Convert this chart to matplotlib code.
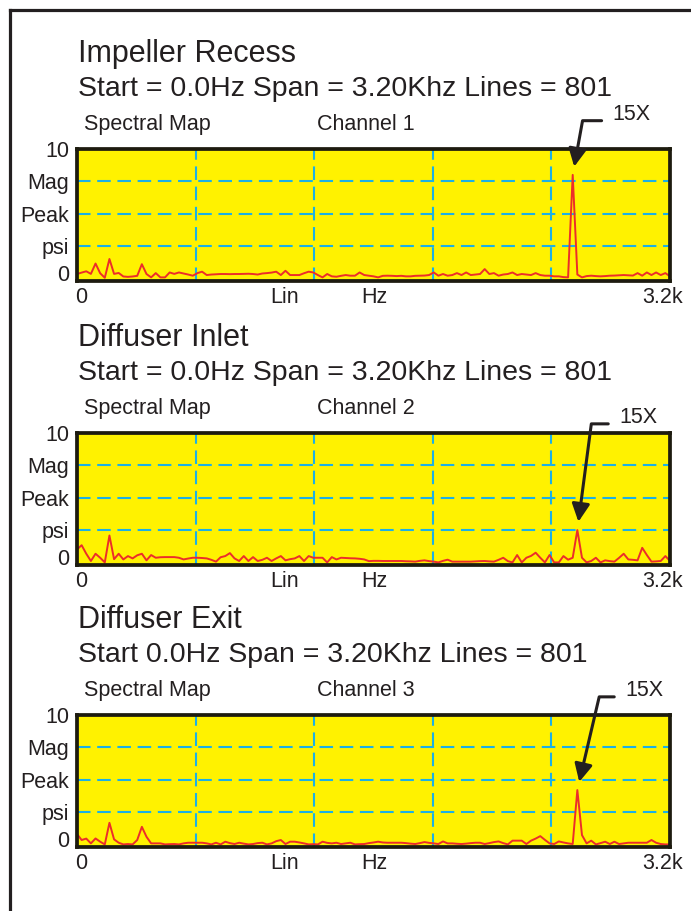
#!/usr/bin/env python3
"""
Spectral maps of pump pressure pulsation at three measuring points.

Each panel shows a 0 - 3.2 kHz magnitude spectrum (peak psi) on the
analyzer's yellow screen, with the 15X blade-pass component called out.
"""

import math

import numpy as np
import matplotlib
matplotlib.use('Agg')
import matplotlib.pyplot as plt
from matplotlib.lines import Line2D
from matplotlib.transforms import offset_copy, ScaledTranslation


# Spectrum bins: 0 - 3.2 kHz, 25 Hz per bin
FREQ_STEP_HZ = 25
SPAN_HZ = 3200

TITLES = ['Impeller Recess', 'Diffuser Inlet', 'Diffuser Exit']
SUBTITLES = [
    'Start = 0.0Hz Span = 3.20Khz Lines = 801',
    'Start = 0.0Hz Span = 3.20Khz Lines = 801',
    'Start 0.0Hz Span = 3.20Khz Lines = 801',
]
CHANNELS = ['Channel 1', 'Channel 2', 'Channel 3']
MAP_LABEL = 'Spectral Map'
PEAK_LABEL = '15X'

Y_TICKS = [0, 2.5, 5, 7.5, 10]
Y_TICK_LABELS = ['0', 'psi', 'Peak', 'Mag', '10']
X_LABELS = ['0', 'Lin', 'Hz', '3.2k']

# Magnitude (psi peak) per 25 Hz bin
CH1 = [
    0.34, 0.45, 0.55, 0.35, 1.15, 0.40, 0.05, 1.50, 0.35, 0.42,
    0.15, 0.12, 0.15, 0.20, 1.10, 0.34, 0.08, 0.41, 0.08, 0.08,
    0.46, 0.35, 0.46, 0.38, 0.30, 0.21, 0.41, 0.52, 0.26, 0.30,
    0.32, 0.34, 0.34, 0.33, 0.34, 0.34, 0.35, 0.36, 0.34, 0.30,
    0.38, 0.41, 0.45, 0.52, 0.26, 0.59, 0.26, 0.26, 0.26, 0.40,
    0.52, 0.46, 0.26, 0.08, 0.34, 0.16, 0.13, 0.20, 0.26, 0.21,
    0.21, 0.46, 0.26, 0.21, 0.16, 0.08, 0.20, 0.21, 0.20, 0.18,
    0.20, 0.16, 0.16, 0.20, 0.21, 0.22, 0.26, 0.46, 0.21, 0.34,
    0.21, 0.26, 0.41, 0.26, 0.46, 0.26, 0.30, 0.34, 0.72, 0.34,
    0.41, 0.21, 0.30, 0.34, 0.46, 0.26, 0.34, 0.30, 0.26, 0.41,
    0.26, 0.21, 0.21, 0.16, 0.16, 0.10, 0.08, 8.00, 0.30, 0.08,
    0.18, 0.21, 0.18, 0.16, 0.18, 0.21, 0.22, 0.24, 0.26, 0.24,
    0.22, 0.41, 0.21, 0.46, 0.26, 0.46, 0.26, 0.41, 0.16,
]
CH2 = [
    1.00, 1.33, 0.67, 0.11, 0.67, 0.36, 0.00, 2.08, 0.25, 0.67,
    0.23, 0.49, 0.31, 0.55, 0.67, 0.16, 0.57, 0.36, 0.40, 0.41,
    0.41, 0.41, 0.36, 0.23, 0.30, 0.36, 0.36, 0.34, 0.31, 0.20,
    0.06, 0.40, 0.49, 0.72, 0.31, 0.11, 0.49, 0.11, 0.41, 0.11,
    0.20, 0.36, 0.11, 0.31, 0.49, 0.16, 0.25, 0.31, 0.49, 0.11,
    0.49, 0.36, 0.36, 0.36, 0.00, 0.41, 0.23, 0.36, 0.34, 0.32,
    0.31, 0.28, 0.23, 0.10, 0.12, 0.12, 0.11, 0.11, 0.11, 0.11,
    0.11, 0.09, 0.08, 0.06, 0.12, 0.16, 0.10, 0.06, 0.00, 0.12,
    0.21, 0.06, 0.06, 0.06, 0.06, 0.06, 0.08, 0.10, 0.11, 0.08,
    0.06, 0.20, 0.36, 0.10, 0.00, 0.57, 0.00, 0.36, 0.50, 0.75,
    0.36, 0.00, 0.57, 0.00, 0.00, 0.49, 0.21, 0.36, 2.50, 0.36,
    0.00, 0.11, 0.36, 0.00, 0.16, 0.10, 0.06, 0.35, 0.67, 0.23,
    0.20, 0.16, 1.13, 0.57, 0.06, 0.08, 0.11, 0.49, 0.11,
]
CH3 = [
    0.80, 0.34, 0.45, 0.08, 0.46, 0.21, 0.00, 1.67, 0.39, 0.13,
    0.00, 0.03, 0.00, 0.34, 1.36, 0.59, 0.08, 0.08, 0.08, 0.00,
    0.02, 0.03, 0.00, 0.08, 0.13, 0.13, 0.13, 0.13, 0.08, 0.00,
    0.13, 0.00, 0.21, 0.10, 0.03, 0.13, 0.06, 0.00, 0.03, 0.10,
    0.13, 0.00, 0.08, 0.25, 0.34, 0.03, 0.21, 0.21, 0.15, 0.08,
    0.00, 0.02, 0.00, 0.21, 0.12, 0.08, 0.13, 0.03, 0.08, 0.13,
    0.00, 0.02, 0.03, 0.10, 0.15, 0.21, 0.15, 0.13, 0.13, 0.13,
    0.13, 0.10, 0.06, 0.03, 0.10, 0.18, 0.12, 0.08, 0.03, 0.23,
    0.08, 0.08, 0.05, 0.03, 0.06, 0.10, 0.13, 0.13, 0.03, 0.10,
    0.18, 0.23, 0.10, 0.00, 0.29, 0.29, 0.29, 0.03, 0.29, 0.45,
    0.64, 0.35, 0.08, 0.03, 0.23, 0.15, 0.08, 0.03, 4.20, 0.72,
    0.08, 0.29, 0.00, 0.10, 0.21, 0.03, 0.21, 0.03, 0.08, 0.13,
    0.13, 0.13, 0.13, 0.13, 0.34, 0.13, 0.03, 0.00, 0.00,
]
SPECTRA = [CH1, CH2, CH3]

# Colours of the analyzer screen
INK = '#231f20'
SCREEN = '#fff200'
FRAME = '#1d1b0f'
GRID = '#1cb0e6'
TRACE = '#ec2d2a'

DPI = 100
FIG_W, FIG_H = 691, 911
PLOT_LEFT, PLOT_RIGHT = 77, 670
PLOT_TOPS = [149, 433, 715]
PLOT_HEIGHT = 132

# 15X callout: (text dx, text baseline dy) and elbow dx, pixels from the peak
CALLOUTS = [((40, 55), 10), ((42, 107), 14), ((48, 94), 22)]


def setup_style():
    plt.rcParams['font.family'] = ['Liberation Sans', 'DejaVu Sans']
    plt.rcParams['text.color'] = INK
    plt.rcParams['ytick.color'] = INK
    plt.rcParams['ytick.labelcolor'] = INK


def px_text(ax, fig, dx, dy, s, ref=(0, 1), **kw):
    """Place text at a pixel offset from a point given in axes fraction."""
    tr = offset_copy(ax.transAxes, fig=fig, x=dx, y=dy, units='dots')
    return ax.text(ref[0], ref[1], s, transform=tr, **kw)


def draw_panel(fig, ax, k):
    values = np.array(SPECTRA[k])
    freqs = np.arange(len(values)) * FREQ_STEP_HZ

    ax.set_facecolor(SCREEN)
    ax.set_xlim(0, SPAN_HZ)
    ax.set_ylim(-0.2, 10)

    # dashed graticule: 5 columns, 4 rows
    for f in np.arange(1, 5) * SPAN_HZ / 5:
        ax.axvline(f, color=GRID, lw=1.5, dashes=(6.5, 3.2), zorder=1)
    for y in Y_TICKS[1:-1]:
        ax.axhline(y, color=GRID, lw=1.5, dashes=(6.5, 3.2), zorder=1)

    ax.plot(freqs, values, color=TRACE, lw=1.4, zorder=3)

    for sp in ax.spines.values():
        sp.set_linewidth(2.7)
        sp.set_color(FRAME)
        sp.set_zorder(5)

    ax.set_xticks([])
    ax.set_yticks(Y_TICKS, Y_TICK_LABELS)
    ax.tick_params(axis='y', length=0, pad=5.5, labelsize=15.5)
    # the zero caption sits a little above the baseline
    zero = ax.yaxis.get_majorticklabels()[0]
    zero.set_transform(zero.get_transform()
                       + ScaledTranslation(0, 5 / DPI, fig.dpi_scale_trans))

    # header lines above the screen
    px_text(ax, fig, 1, 87, TITLES[k], fontsize=22, va='baseline', ha='left')
    px_text(ax, fig, 1, 53, SUBTITLES[k], fontsize=20.5, va='baseline', ha='left')
    px_text(ax, fig, 7, 19, MAP_LABEL, fontsize=15.5, va='baseline', ha='left')
    px_text(ax, fig, 240, 19, CHANNELS[k], fontsize=15.5, va='baseline', ha='left')

    # frequency axis captions
    px_text(ax, fig, -2, -22, X_LABELS[0], ref=(0, 0), fontsize=15.5, va='baseline', ha='left')
    px_text(ax, fig, 208, -22, X_LABELS[1], ref=(0, 0), fontsize=15.5, va='baseline', ha='center')
    px_text(ax, fig, 297, -22, X_LABELS[2], ref=(0, 0), fontsize=15.5, va='baseline', ha='center')
    px_text(ax, fig, 13, -22, X_LABELS[3], ref=(1, 0), fontsize=15.5, va='baseline', ha='right')

    # 15X call-out on the largest line
    i = int(np.argmax(values))
    (tdx, tdy), elbow_dx = CALLOUTS[k]
    angle_b = math.degrees(math.atan2(tdy, elbow_dx))
    ax.annotate(
        PEAK_LABEL, xy=(freqs[i], values[i]), xytext=(tdx, tdy),
        textcoords='offset pixels', ha='left', va='baseline', fontsize=15.5,
        annotation_clip=False, zorder=6,
        arrowprops=dict(
            arrowstyle='-|>', color=INK, lw=2.2, mutation_scale=27,
            shrinkA=8, shrinkB=6, patchA=None, relpos=(0, 0.2),
            connectionstyle=f'angle,angleA=0,angleB={angle_b:.1f},rad=0',
        ),
    )


def main():
    setup_style()
    fig = plt.figure(figsize=(FIG_W / DPI, FIG_H / DPI), dpi=DPI)
    fig.patch.set_facecolor('white')

    for k, top in enumerate(PLOT_TOPS):
        rect = [PLOT_LEFT / FIG_W, 1 - (top + PLOT_HEIGHT) / FIG_H,
                (PLOT_RIGHT - PLOT_LEFT) / FIG_W, PLOT_HEIGHT / FIG_H]
        ax = fig.add_axes(rect)
        draw_panel(fig, ax, k)

    # page frame: left and top rules
    x0, y0 = 9.5 / FIG_W, 1 - 9.5 / FIG_H
    fig.add_artist(Line2D([x0, x0], [0, y0], transform=fig.transFigure,
                          color=INK, lw=2.3, solid_capstyle='projecting'))
    fig.add_artist(Line2D([x0, 1], [y0, y0], transform=fig.transFigure,
                          color=INK, lw=2.3, solid_capstyle='projecting'))

    fig.savefig('out.png', dpi=DPI)
    plt.close(fig)


if __name__ == '__main__':
    main()
